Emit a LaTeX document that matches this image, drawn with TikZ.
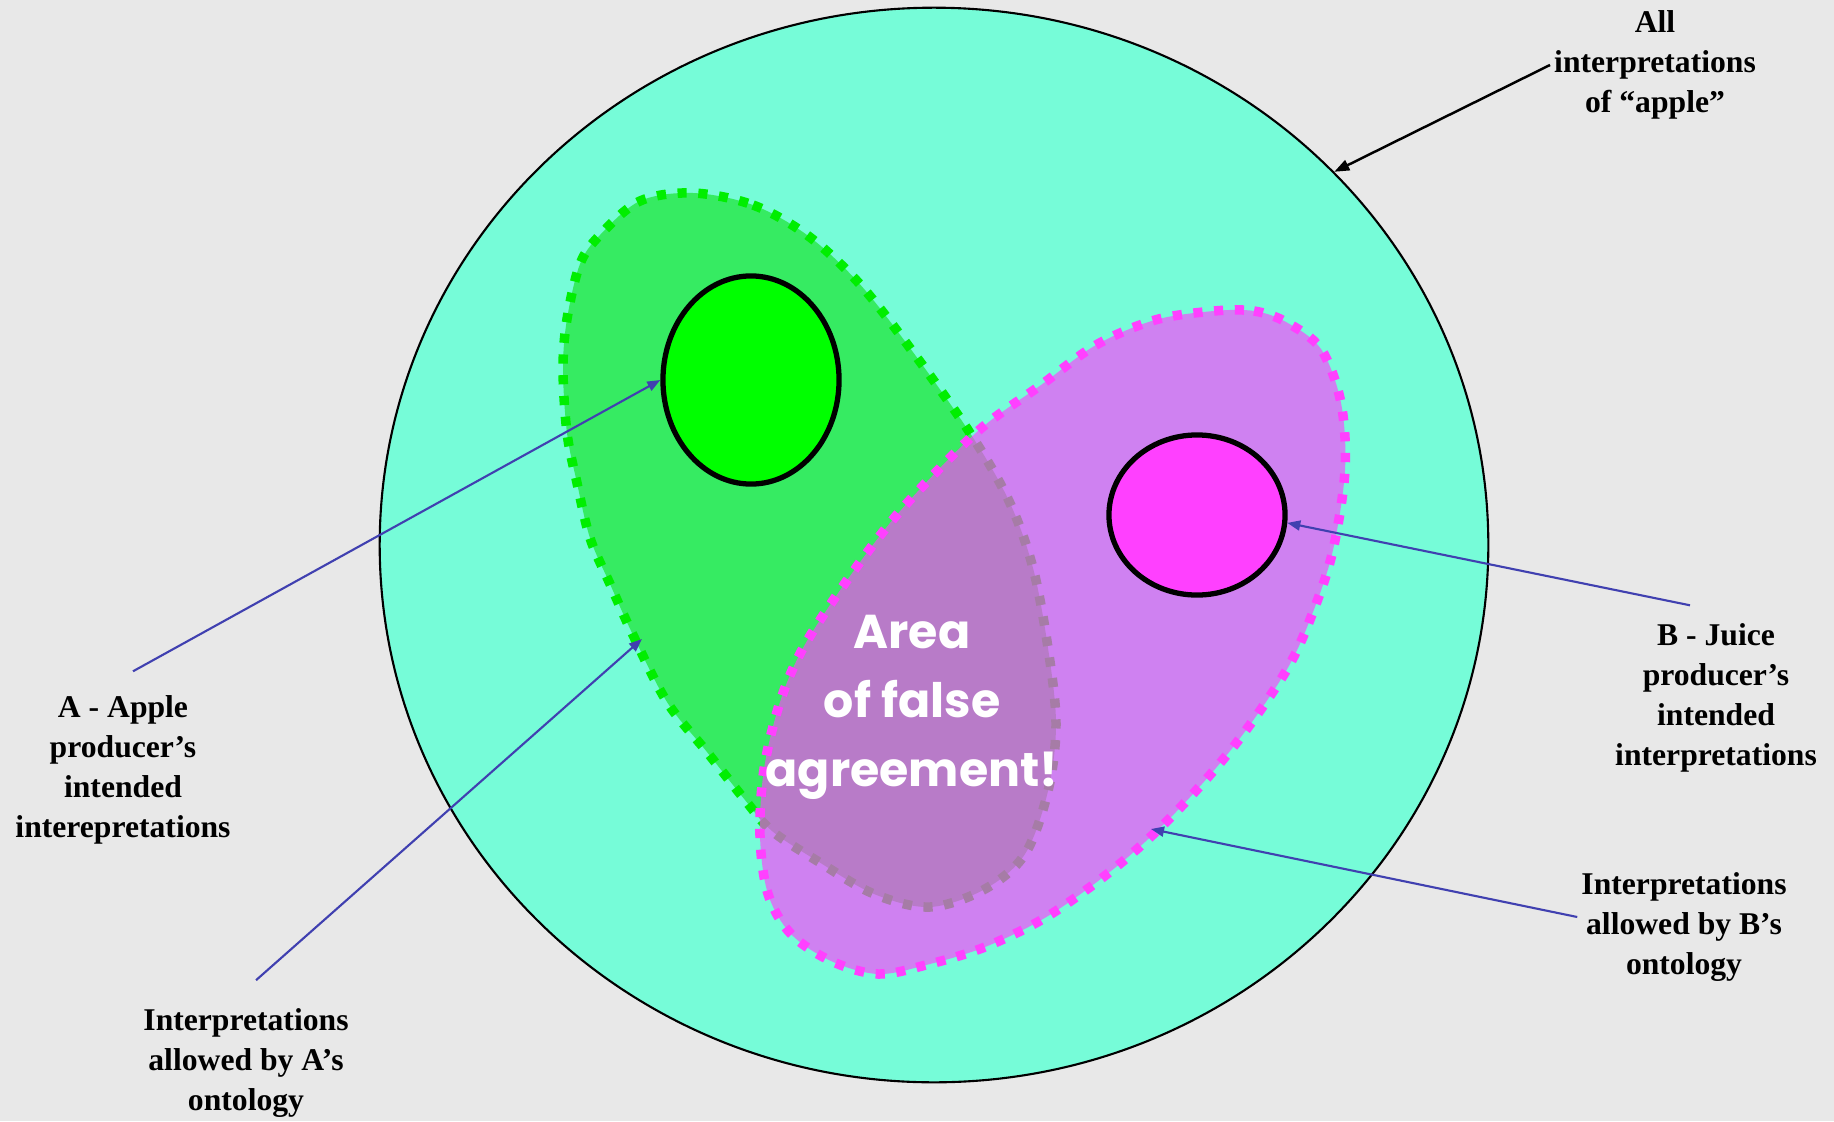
\documentclass[tikz,border=0pt]{standalone}
\usepackage{fontspec}
\setmainfont{Liberation Serif}
\newfontfamily\comicfont{Poppins}
\usepackage{tikz}
\usetikzlibrary{arrows.meta,shapes.geometric}

\definecolor{slidegray}{RGB}{232,232,232}
\definecolor{aqua}{RGB}{118,252,216}
\definecolor{leafgreen}{RGB}{54,235,98}
\definecolor{dotgreen}{RGB}{0,238,0}
\definecolor{puregreen}{RGB}{0,255,0}
\definecolor{magentapink}{RGB}{255,64,255}
\definecolor{arrowblue}{RGB}{64,64,176}

\begin{document}
\begin{tikzpicture}[
  x=0.01cm, y=-0.01cm,
  note/.style={font=\fontsize{9}{11.4}\selectfont\bfseries, align=center, inner sep=1pt},
  dotborder/.style={line width=2.7pt, dash pattern=on 2.6pt off 3.3pt},
  intended/.style={ellipse, draw=black, line width=1.5pt, inner sep=0pt},
  pointer/.style={-{Triangle[length=1.3mm, width=1mm]}, draw=arrowblue, line width=0.6pt},
  blackptr/.style={-{Triangle[length=1.5mm, width=1.1mm]}, line width=0.7pt}
]
\useasboundingbox (0,0) rectangle (1834,1121);
\fill[slidegray] (0,0) rectangle (1834,1121);

% all interpretations
\node[ellipse, draw, line width=0.6pt, fill=aqua, minimum width=11.08cm, minimum height=10.74cm, inner sep=0pt] (allCircle) at (934,545) {};

% A's ontology
\path[fill=leafgreen, draw=dotgreen, dotborder] plot[smooth cycle, tension=0.55] coordinates {
  (693,193) (753,205) (807,235) (857,281) (907,344) (970,433) (1009,501) (1033,568)
  (1048,648) (1056,724) (1048,791) (1025,854) (985,889) (930,907) (874,894) (819,862)
  (772,831) (745,800) (707,752) (667,702) (633,635) (610,584) (590,538) (577,483)
  (567,433) (563,369) (567,319) (580,264) (600,235) (640,201)};
\node[intended, fill=puregreen, minimum width=1.76cm, minimum height=2.08cm] (appleA) at (751,380) {};

% B's ontology
\path[fill=magentapink, fill opacity=0.65, draw=magentapink, dotborder] plot[smooth cycle, tension=0.55] coordinates {
  (1214,311) (1254,311) (1286,322) (1321,349) (1341,403) (1345,470) (1333,550) (1313,612)
  (1286,671) (1234,746) (1175,813) (1116,867) (1048,916) (985,947) (926,965) (878,974)
  (831,961) (791,934) (768,894) (760,836) (764,769) (780,702) (803,648) (843,586)
  (890,523) (938,470) (985,425) (1041,385) (1096,345) (1155,320)};
\node[intended, fill=magentapink, minimum width=1.76cm, minimum height=1.6cm] (juiceB) at (1197,515) {};

\node[font=\comicfont\fontsize{13.5}{19.6}\selectfont\bfseries, text=white, align=center] (falseArea) at (912,707) {Area\\of false\\agreement!};

% labels
\node[note] (allLbl) at (1655,65) {All\\interpretations\\of ``apple''};
\node[note] (apLbl) at (123,770) {A - Apple\\producer's\\intended\\interepretations};
\node[note] (ontoALbl) at (246,1063) {Interpretations\\allowed by A's\\ontology};
\node[note] (juLbl) at (1716,698) {B - Juice\\producer's\\intended\\interpretations};
\node[note] (ontoBLbl) at (1684,927) {Interpretations\\allowed by B's\\ontology};

\coordinate (ontoAtip) at (642,639);
\coordinate (ontoBtip) at (1151,829);

\draw[blackptr] (allLbl.west) -- (allCircle.43.6);
\draw[pointer] ([xshift=1mm, yshift=2mm]apLbl.north) -- (appleA.west);
\draw[pointer] ([xshift=1mm, yshift=2.4mm]ontoALbl.north) -- (ontoAtip);
\draw[pointer] ([xshift=-2.6mm, yshift=1.4mm]juLbl.north) -- (juiceB.-5);
\draw[pointer] ([yshift=1mm]ontoBLbl.west) -- (ontoBtip);
\end{tikzpicture}
\end{document}
